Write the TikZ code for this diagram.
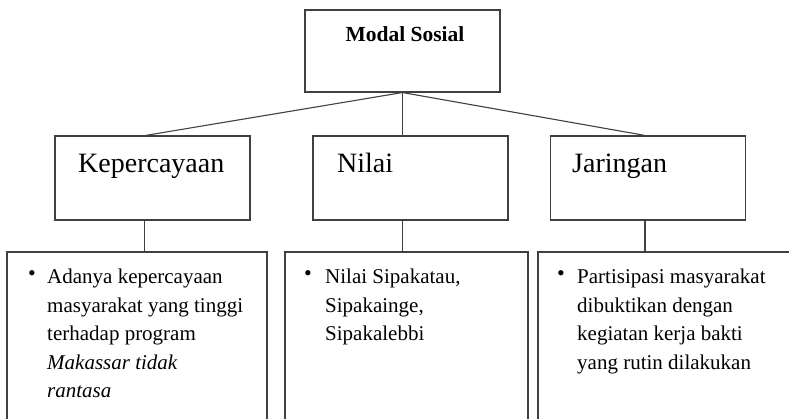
\documentclass[tikz,border=0pt]{standalone}
\usepackage{fontspec}
\setmainfont{Liberation Serif}
\begin{document}
\begin{tikzpicture}[
    x=1pt, y=-1pt,
    box/.style={draw=black!75, line width=1.1pt, inner sep=0pt},
    conn/.style={draw=black!75, line width=1.1pt},
    head/.style={font=\fontsize{28}{32}\selectfont, anchor=base west, inner sep=0pt},
    item/.style={font=\fontsize{21}{28.5}\selectfont, align=left, anchor=north west, inner sep=0pt},
    dot/.style={font=\fontsize{22}{24}\selectfont, anchor=base, inner sep=0pt}
]
\clip (0,0) rectangle (789,419);

% --- top: Modal Sosial ---
\node[box, minimum width=195pt, minimum height=82pt] (modal) at (402.5,51) {};
\node[font=\fontsize{21.5}{26}\selectfont\bfseries, anchor=base] (modaltxt) at (405,42) {Modal Sosial};

% --- middle row ---
\foreach \nm/\cx/\tx/\lbl in
    {kep/152.5/78/Kepercayaan,
     nilai/410.5/337/Nilai,
     jar/648/572/Jaringan} {
    \node[box, minimum width=195pt, minimum height=84pt] (\nm) at (\cx,178) {};
    \node[head] (\nm txt) at (\tx,173) {\lbl};
}

% --- bottom row (boxes run off the page) ---
\node[box, minimum width=260pt, minimum height=190pt] (bl) at (137,347) {};
\node[box, minimum width=243pt, minimum height=190pt] (bm) at (406.5,347) {};
\node[box, minimum width=262pt, minimum height=190pt] (br) at (669,347) {};

\node[dot] (bldot) at (32,281) {\textbullet};
\node[item] (bltxt) at (47,269) {Adanya kepercayaan\\ masyarakat yang tinggi\\
    terhadap program\\ \textit{Makassar tidak}\\ \textit{rantasa}};
\node[dot] (bmdot) at (308,281) {\textbullet};
\node[item] (bmtxt) at (325,269) {Nilai Sipakatau,\\ Sipakainge,\\ Sipakalebbi};
\node[dot] (brdot) at (561,281) {\textbullet};
\node[item] (brtxt) at (577,269) {Partisipasi masyarakat\\ dibuktikan dengan\\
    kegiatan kerja bakti\\ yang rutin dilakukan};

% --- connectors ---
\draw[conn] (modal.south) -- ([xshift=-7pt]kep.north);
\draw[conn] (modal.south) -- (modal.south |- nilai.north);
\draw[conn] (modal.south) -- ([xshift=-3pt]jar.north);
\draw[conn] ([xshift=-8pt]kep.south) -- ([xshift=-8pt]kep.south |- bl.north);
\draw[conn] (nilai.south -| modal.south) -- (modal.south |- bm.north);
\draw[conn] ([xshift=-3pt]jar.south) -- ([xshift=-3pt]jar.south |- br.north);

\end{tikzpicture}
\end{document}
